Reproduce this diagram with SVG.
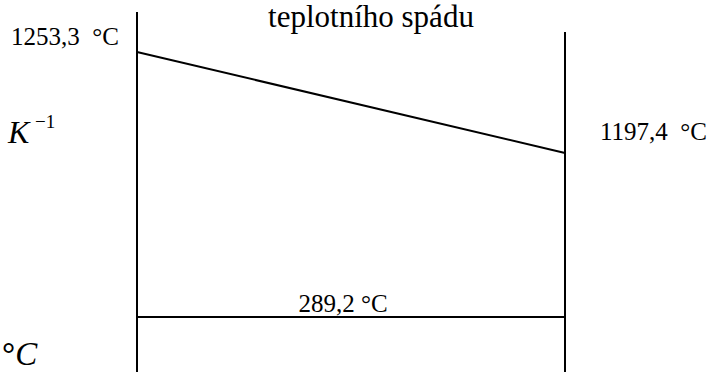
<svg xmlns="http://www.w3.org/2000/svg" width="713" height="372" viewBox="0 0 713 372">
<style>
.t{font-family:"Liberation Serif","Times New Roman",serif;fill:#000;white-space:pre}
.ln{stroke:#000;stroke-width:2;fill:none}
</style>
<rect width="713" height="372" fill="#fff"/>
<g id="connectors">
<line class="ln" x1="137" y1="12" x2="137" y2="372"/>
<line class="ln" x1="565" y1="32" x2="565" y2="372"/>
<line class="ln" x1="137" y1="52" x2="565" y2="153"/>
<line class="ln" x1="137" y1="317" x2="565" y2="317"/>
</g>
<g id="title"><text class="t" x="371" y="27" font-size="31" text-anchor="middle">teplotního spádu</text></g>
<g id="t-left"><text class="t" x="11" y="45" font-size="25" xml:space="preserve">1253,3  °C</text></g>
<g id="t-right"><text class="t" x="600" y="140" font-size="25" xml:space="preserve">1197,4  °C</text></g>
<g id="t-bottom"><text class="t" x="343" y="312" font-size="25" text-anchor="middle">289,2 °C</text></g>
<g id="unit-k"><text class="t" x="8" y="143" font-size="32" font-style="italic">K</text><text class="t" x="35" y="128" font-size="19">−1</text></g>
<g id="unit-c"><text class="t" x="2" y="365" font-size="33" font-weight="bold"><tspan>°</tspan><tspan font-style="italic" font-weight="normal">C</tspan></text></g>
</svg>
